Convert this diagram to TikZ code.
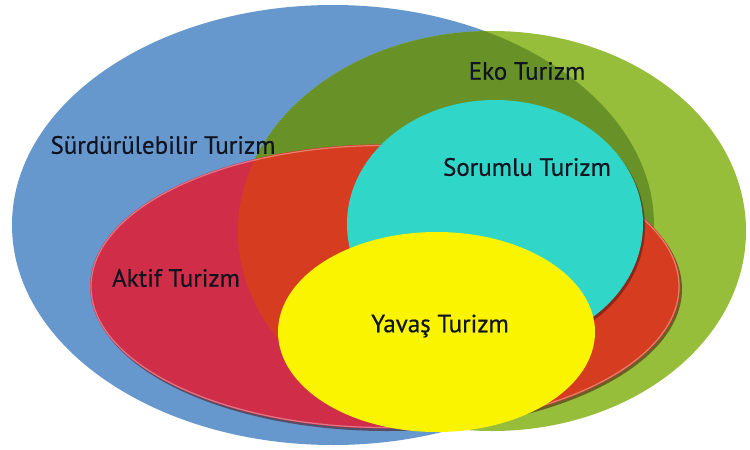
\documentclass[tikz,border=0pt]{standalone}
\usepackage{fontspec}
\setmainfont{PT Sans}[Ligatures=NoCommon]
\newfontfamily\lblfont{PT Sans}[Ligatures=NoCommon, FakeBold=0.5]
\definecolor{cblue}{RGB}{102,151,205}
\definecolor{cgreenL}{RGB}{150,190,58}
\definecolor{cgreenD}{RGB}{104,146,40}
\definecolor{credB}{RGB}{208,46,72}
\definecolor{credG}{RGB}{214,60,32}
\definecolor{ccyan}{RGB}{48,214,200}
\definecolor{cyellow}{RGB}{250,244,0}
\definecolor{ctext}{RGB}{16,20,32}
\definecolor{cshadow}{RGB}{70,20,20}
\tikzset{
  lbl/.style={font=\lblfont\fontsize{25}{28}\selectfont, text=ctext, inner sep=0pt},
}
\begin{document}
\begin{tikzpicture}[x=1pt,y=-1pt]
\useasboundingbox (0,0) rectangle (750,450);
\fill[white] (0,0) rectangle (750,450);
% blue
\fill[cblue] (333,225) ellipse [x radius=321, y radius=220];
% green
\fill[cgreenL] (492,231) ellipse [x radius=254, y radius=200];
\begin{scope}
  \clip (333,225) ellipse [x radius=321, y radius=220];
  \fill[cgreenD] (492,231) ellipse [x radius=254, y radius=200];
\end{scope}
% red
\fill[cshadow, opacity=0.55] (387,289) ellipse [x radius=295, y radius=142];
\fill[credB] (385,286.5) ellipse [x radius=295, y radius=142];
\begin{scope}
  \clip (492,231) ellipse [x radius=254, y radius=200];
  \fill[credG] (385,286.5) ellipse [x radius=295, y radius=142];
\end{scope}
\draw[white, opacity=0.35, line width=1.2pt] (385,286.5) ellipse [x radius=294, y radius=141];
% cyan
\fill[cshadow, opacity=0.5] (497,226.5) ellipse [x radius=148, y radius=124];
\fill[ccyan] (495,224) ellipse [x radius=148, y radius=124];
% yellow
\fill[cyellow] (436.5,332) ellipse [x radius=158.5, y radius=100];
% labels
\node[lbl] (sur) at (163,145) {Sürdürülebilir Turizm};
\node[lbl] (eko) at (527,71) {Eko Turizm};
\node[lbl] (sor) at (527,167) {Sorumlu Turizm};
\node[lbl] (akt) at (176,278) {Aktif Turizm};
\node[lbl] (yav) at (440,326) {Yavaş Turizm};
\end{tikzpicture}
\end{document}
